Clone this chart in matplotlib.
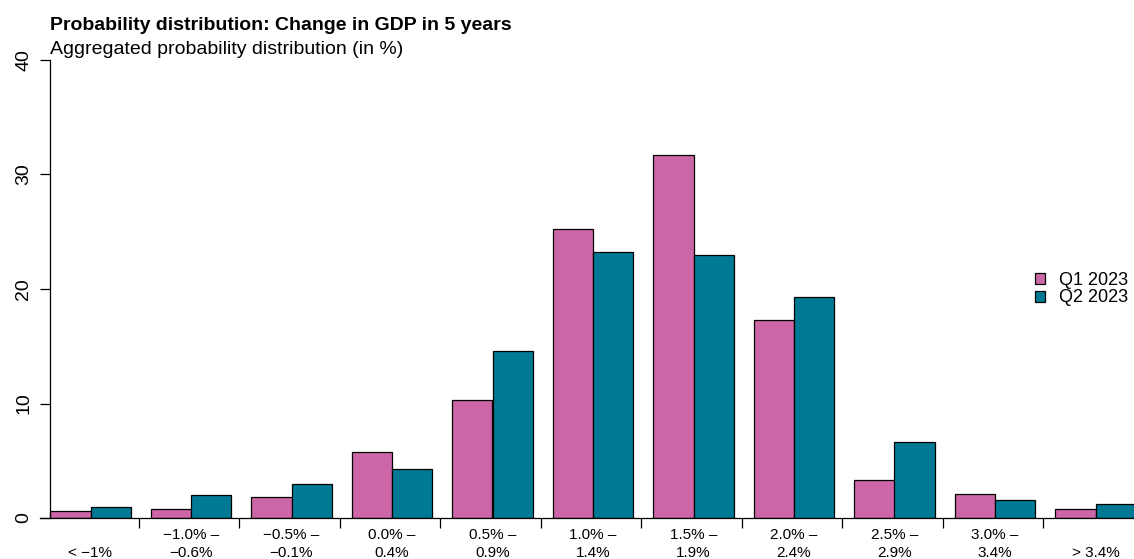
import numpy as np
import matplotlib.pyplot as plt

plt.rcParams['font.family'] = ['Liberation Sans', 'DejaVu Sans']

categories = ['\n< \u22121%', '\u22121.0% \u2013\n\u22120.6%', '\u22120.5% \u2013\n\u22120.1%',
              '0.0% \u2013\n0.4%', '0.5% \u2013\n0.9%', '1.0% \u2013\n1.4%', '1.5% \u2013\n1.9%',
              '2.0% \u2013\n2.4%', '2.5% \u2013\n2.9%', '3.0% \u2013\n3.4%', '\n> 3.4%']
q1_2023 = [0.6, 0.8, 1.8, 5.8, 10.3, 25.2, 31.7, 17.3, 3.3, 2.1, 0.8]
q2_2023 = [1.0, 2.0, 3.0, 4.3, 14.6, 23.2, 23.0, 19.3, 6.6, 1.6, 1.2]
series_names = ['Q1 2023', 'Q2 2023']

pink = '#CC66A6'
teal = '#007A94'

W, H = 1134, 559
fig = plt.figure(figsize=(W / 100, H / 100), dpi=100)
# axes from x=40px to right edge, y from 518px (0) to 60px (40)
ax = fig.add_axes([40 / W, (H - 518) / H, 1 - 40 / W, 458 / H])

x = np.arange(len(categories))
bw = 0.4
ax.bar(x - bw / 2, q1_2023, width=bw, color=pink, edgecolor='black', linewidth=0.9, label=series_names[0])
ax.bar(x + bw / 2, q2_2023, width=bw, color=teal, edgecolor='black', linewidth=0.9, label=series_names[1])

px = 100.5  # pixels per group
x0 = -(90.5 - 40) / px
ax.set_xlim(x0, x0 + (W - 40) / px)
ax.set_ylim(0, 40)

for s in ['top', 'right']:
    ax.spines[s].set_visible(False)
ax.spines['left'].set_position(('data', -0.4))
ax.spines['left'].set_bounds(0, 40)
ax.spines['left'].set_linewidth(0.9)
ax.spines['bottom'].set_linewidth(0.9)

ax.set_yticks([0, 10, 20, 30, 40])
ax.set_yticklabels(['0', '10', '20', '30', '40'], rotation=90, va='center', fontsize=14)
ax.tick_params(axis='y', length=7, width=0.9, pad=6)

ax.set_xticks(x)
ax.set_xticklabels(categories, fontsize=11, linespacing=1.34)
ax.tick_params(axis='x', which='major', length=0, pad=7.5)
ax.set_xticks(x[:-1] + 0.48, minor=True)
ax.tick_params(axis='x', which='minor', length=7, width=0.9)

fig.text(50 / W, 1 - 30 / H, 'Probability distribution: Change in GDP in 5 years',
         fontsize=14, fontweight='bold', ha='left', va='baseline')
fig.text(50 / W, 1 - 54 / H, 'Aggregated probability distribution (in %)',
         fontsize=14, ha='left', va='baseline')

ax.legend(loc='center left', bbox_to_anchor=(1026 / W, 1 - 289 / H), bbox_transform=fig.transFigure,
          frameon=False, fontsize=13, handlelength=0.55, handleheight=0.55, handletextpad=0.8,
          labelspacing=0.05, borderpad=0)

fig.savefig('out.png', dpi=100)
